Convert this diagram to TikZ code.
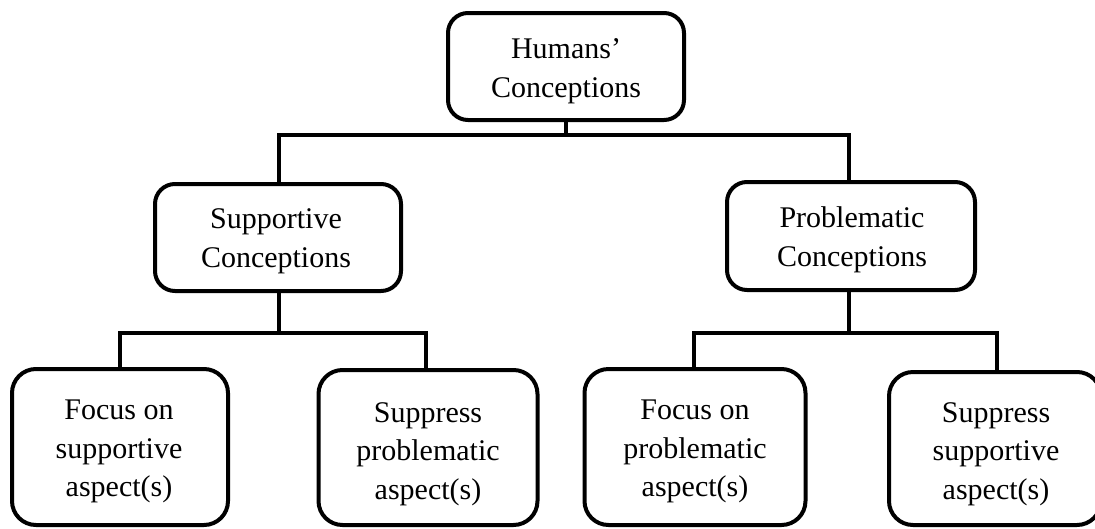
\documentclass[tikz,border=0pt]{standalone}
\usepackage{fontspec}
\setmainfont{Liberation Serif}
\begin{document}
\begin{tikzpicture}[x=1pt,y=-1pt,
  box/.style={draw=black, line width=4pt, rounded corners=20pt,
    inner sep=0pt, fill=white},
  bigbox/.style={box, rounded corners=24pt},
  txt/.style={align=center, inner sep=0pt, font=\fontsize{30}{38.5}\selectfont},
  link/.style={draw=black, line width=4.5pt}]
\clip (0,0) rectangle (1095,528);
\fill[white] (0,0) rectangle (1095,528);
% boxes
\node[box, minimum width=236pt, minimum height=107pt] (hum) at (566,66.5) {};
\node[box, minimum width=246pt, minimum height=107pt] (sup) at (278,237.5) {};
\node[box, minimum width=248pt, minimum height=108pt] (pro) at (851,236) {};
\node[bigbox, minimum width=216pt, minimum height=156pt] (fs) at (120,447) {};
\node[bigbox, minimum width=219pt, minimum height=155pt] (sp) at (428,447.5) {};
\node[bigbox, minimum width=221pt, minimum height=156pt] (fp) at (695,447) {};
\node[bigbox, minimum width=212pt, minimum height=153pt] (ss) at (995,448.5) {};
% texts
\node[txt] (hum-t) at (566,71) {Humans’\\Conceptions};
\node[txt] (sup-t) at (276,241.5) {Supportive\\Conceptions};
\node[txt] (pro-t) at (852,240) {Problematic\\Conceptions};
\node[txt] (fs-t) at (119,451.5) {Focus on\\supportive\\aspect(s)};
\node[txt] (sp-t) at (428,454) {Suppress\\problematic\\aspect(s)};
\node[txt] (fp-t) at (695,451.5) {Focus on\\problematic\\aspect(s)};
\node[txt] (ss-t) at (996,454) {Suppress\\supportive\\aspect(s)};
% connectors
\coordinate (j1) at (566,135);
\coordinate (j2) at (279,333);
\coordinate (j3) at (849,333);
\draw[link] (hum.south) -- (j1);
\draw[link] (j1) -| ([xshift=1pt]sup.north);
\draw[link] (j1) -| ([xshift=-2pt]pro.north);
\draw[link] ([xshift=1pt]sup.south) -- (j2);
\draw[link] (j2) -| (fs.north);
\draw[link] (j2) -| ([xshift=-2pt]sp.north);
\draw[link] ([xshift=-2pt]pro.south) -- (j3);
\draw[link] (j3) -| ([xshift=-1pt]fp.north);
\draw[link] (j3) -| ([xshift=2pt]ss.north);
\end{tikzpicture}
\end{document}
